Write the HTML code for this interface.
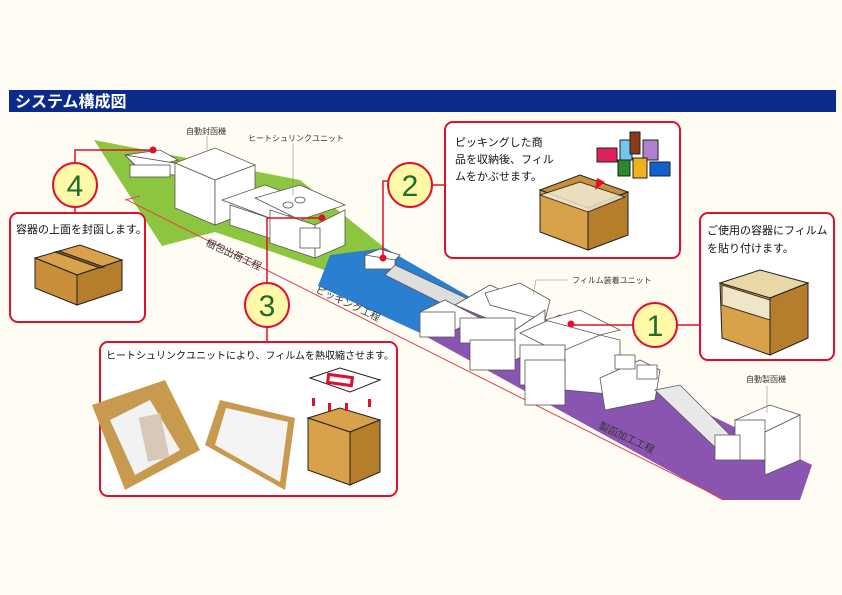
<!DOCTYPE html>
<html><head><meta charset="utf-8"><style>
html,body{margin:0;padding:0;background:#fffdf3;}
svg{display:block}
text{font-family:"Liberation Sans","Noto Sans CJK JP",sans-serif;}
</style></head><body>
<svg width="842" height="595" viewBox="0 0 842 595" xmlns="http://www.w3.org/2000/svg">
<rect width="842" height="595" fill="#fffdf3"/>
<rect x="9" y="90" width="827" height="22" fill="#0c2a8c"/>
<text x="15" y="107" font-size="16" font-weight="bold" fill="#fff">システム構成図</text>

<!-- bands -->
<polygon points="94,140 300,180 385,248 330,272 215,232 162,246" fill="#8cc63f"/>
<polygon points="330,255 385,248 475,300 418,332 318,286" fill="#2a7fd0"/>
<polygon points="475,300 812,465 800,500 722,500 418,332" fill="#8a55b0"/>
<line x1="127" y1="200" x2="725" y2="500" stroke="#e04050" stroke-width="1"/>
<line x1="125" y1="200" x2="140" y2="196" stroke="#e04050" stroke-width="1"/>

<!-- band labels -->
<text x="205" y="245" font-size="10" fill="#333" transform="rotate(25 205 245)">梱包出荷工程</text>
<text x="315" y="292" font-size="10" fill="#333" transform="rotate(25 315 292)">ピッキング工程</text>
<text x="598" y="428" font-size="10" fill="#333" transform="rotate(25 598 428)">製函加工工程</text>

<!-- machines left -->
<g fill="#fff" stroke="#555" stroke-width="0.8">
<polygon points="125,155 160,150 178,160 140,170"/>
<polygon points="125,155 140,170 240,185 230,172"/>
<rect x="130" y="165" width="40" height="12"/>
<polygon points="175,163 215,148 255,165 215,180"/>
<polygon points="175,163 215,180 215,225 175,208"/>
<polygon points="215,180 255,165 255,210 215,225"/>
<polygon points="222,200 265,185 320,205 275,220"/>
<polygon points="230,205 275,220 275,240 230,225"/>
<polygon points="255,198 300,185 345,205 300,220"/>
<polygon points="270,210 315,225 315,258 270,243"/>
<polygon points="315,225 345,210 345,245 315,258"/>
<rect x="300" y="228" width="20" height="20"/>
<ellipse cx="288" cy="205" rx="5" ry="3"/><ellipse cx="300" cy="200" rx="5" ry="3"/>
<rect x="365" y="255" width="30" height="14"/>
<polygon points="365,255 380,249 400,255 395,260"/>
<polygon points="395,265 470,300 455,310 385,275" fill="#ddd"/>
</g>
<!-- machines right -->
<g fill="#fff" stroke="#555" stroke-width="0.8">
<polygon points="420,312 445,300 480,318 455,330"/>
<rect x="420" y="312" width="35" height="25"/>
<polygon points="455,305 490,285 545,310 515,330"/>
<polygon points="485,293 520,283 550,300 545,320 490,305"/>
<rect x="460" y="318" width="55" height="25"/>
<polygon points="515,330 545,310 545,345 515,360"/>
<rect x="470" y="340" width="45" height="30"/>
<polygon points="520,333 560,315 600,335 560,353"/>
<polygon points="545,320 580,310 620,330 600,335"/>
<rect x="520" y="345" width="45" height="40"/>
<polygon points="565,350 600,335 620,340 620,395 565,390"/>
<rect x="525" y="360" width="40" height="45"/>
<polygon points="600,378 640,360 660,370 655,400 605,410"/>
<rect x="615" y="355" width="20" height="14"/><rect x="637" y="365" width="20" height="14"/>
<polygon points="655,390 680,385 740,445 720,452" fill="#e8e8e8"/>
<polygon points="735,420 770,405 800,415 765,432"/>
<rect x="735" y="420" width="30" height="40"/>
<polygon points="765,432 800,415 800,460 765,475"/>
<rect x="715" y="435" width="25" height="25"/>
</g>

<!-- machine labels -->
<g font-size="8" fill="#333">
<text x="186" y="134">自動封函機</text>
<text x="248" y="141">ヒートシュリンクユニット</text>
<text x="572" y="283">フィルム装着ユニット</text>
<text x="746" y="382">自動製函機</text>
</g>
<g stroke="#888" stroke-width="0.6" fill="none">
<line x1="207" y1="136" x2="207" y2="150"/>
<line x1="293" y1="144" x2="293" y2="195"/>
<polyline points="536,280 568,280"/><line x1="536" y1="280" x2="533" y2="295"/>
<line x1="767" y1="386" x2="767" y2="413"/>
</g>

<!-- connectors -->
<g stroke="#e0102a" stroke-width="1.5" fill="none">
<polyline points="75,163 75,150 153,150"/>
<line x1="75" y1="207" x2="75" y2="213"/>
<polyline points="389,181 383,181 383,258"/>
<polyline points="445,185 432,185"/>
<polyline points="267,283 267,218 322,218"/>
<polyline points="267,327 267,342"/>
<polyline points="571,325 633,325"/>
<line x1="677" y1="325" x2="700" y2="325"/>
</g>
<g fill="#e0102a">
<circle cx="153" cy="150" r="3.5"/><circle cx="322" cy="218" r="3.5"/>
<circle cx="383" cy="258" r="3.5"/><circle cx="571" cy="324" r="3.5"/>
</g>

<!-- circles -->
<g fill="#fff9a8" stroke="#e0102a" stroke-width="2">
<circle cx="75" cy="185" r="22"/><circle cx="410" cy="185" r="22"/>
<circle cx="267" cy="305" r="22"/><circle cx="655" cy="325" r="22"/>
</g>
<g font-size="30" fill="#1e6b2a" text-anchor="middle">
<text x="75" y="196">4</text><text x="410" y="196">2</text>
<text x="267" y="316">3</text><text x="655" y="336">1</text>
</g>

<!-- callout boxes -->
<g fill="#fff" stroke="#e0102a" stroke-width="2">
<rect x="10" y="213" width="135" height="109" rx="8"/>
<rect x="445" y="122" width="235" height="136" rx="8"/>
<rect x="700" y="213" width="134" height="147" rx="8"/>
<rect x="100" y="342" width="297" height="154" rx="8"/>
</g>
<g font-size="11" fill="#111">
<text x="16" y="233">容器の上面を封函します。</text>
<text x="455" y="146">ピッキングした商</text>
<text x="455" y="163">品を収納後、フィル</text>
<text x="455" y="180">ムをかぶせます。</text>
<text x="707" y="234">ご使用の容器にフィルム</text>
<text x="707" y="252">を貼り付けます。</text>
<text x="106" y="359" font-size="10">ヒートシュリンクユニットにより、フィルムを熱収縮させます。</text>
</g>

<!-- box 4 carton -->
<g stroke="#222" stroke-width="1">
<polygon points="35,258 80,245 122,260 77,275" fill="#d9a24a"/>
<polygon points="35,258 77,275 77,305 35,288" fill="#c98f38"/>
<polygon points="77,275 122,260 122,290 77,305" fill="#b57d2c"/>
<polygon points="55,252 59,251 104,267 100,268" fill="#8a5a28"/>
</g>
<!-- box 2 -->
<g stroke="#222" stroke-width="1">
<polygon points="540,190 580,175 628,192 588,208" fill="#c98f38"/>
<polygon points="540,190 588,208 588,250 540,232" fill="#d9a24a"/>
<polygon points="588,208 628,192 628,235 588,250" fill="#b57d2c"/>
<polygon points="540,195 580,182 625,197 588,212" fill="#f4f2e0" opacity="0.8"/>
<rect x="597" y="148" width="20" height="14" fill="#e0205a"/>
<rect x="620" y="140" width="12" height="20" fill="#70c8f0"/>
<rect x="630" y="132" width="10" height="22" fill="#8a3a1a"/>
<rect x="643" y="140" width="15" height="20" fill="#b080d0"/>
<rect x="618" y="160" width="12" height="16" fill="#2a8a2a"/>
<rect x="633" y="158" width="14" height="20" fill="#f0b020"/>
<rect x="650" y="162" width="20" height="14" fill="#1060d0"/>
</g>
<polygon points="597,178 605,182 595,190" fill="#e0102a"/>
<!-- box 1 -->
<g stroke="#222" stroke-width="1">
<polygon points="720,283 760,270 808,283 770,298" fill="#e8d8a8"/>
<polygon points="720,283 770,298 770,355 722,338" fill="#d9a24a"/>
<polygon points="770,298 808,283 808,338 770,355" fill="#b57d2c"/>
<polygon points="722,285 770,300 770,320 722,305" fill="#f4f2e0" opacity="0.85"/>
</g>
<!-- box 3 photos -->
<polygon points="92,405 165,380 200,450 125,490" fill="#c89a50"/>
<polygon points="110,420 150,400 180,450 135,475" fill="#f2f2f2"/>
<rect x="143" y="415" width="22" height="45" fill="#d8c8b8" transform="rotate(-12 154 437)"/>
<polygon points="205,445 220,400 295,418 285,490" fill="#c89a50"/>
<polygon points="215,445 226,408 288,422 280,482" fill="#f4f4f4"/>
<g stroke="#222" stroke-width="1">
<polygon points="310,378 340,368 380,380 350,392" fill="#fff"/>
<rect x="328" y="376" width="24" height="8" fill="none" stroke="#e0102a" stroke-width="3" transform="rotate(8 340 380)"/>
<polygon points="308,418 340,408 380,420 350,432" fill="#d9a24a"/>
<polygon points="308,418 350,432 350,485 308,470" fill="#d9a24a"/>
<polygon points="350,432 380,420 380,472 350,485" fill="#b57d2c"/>
</g>
<g fill="#e0102a"><rect x="312" y="398" width="3" height="8"/><rect x="328" y="403" width="3" height="8"/><rect x="345" y="403" width="3" height="8"/><rect x="368" y="399" width="3" height="8"/></g>
</svg>
</body></html>
